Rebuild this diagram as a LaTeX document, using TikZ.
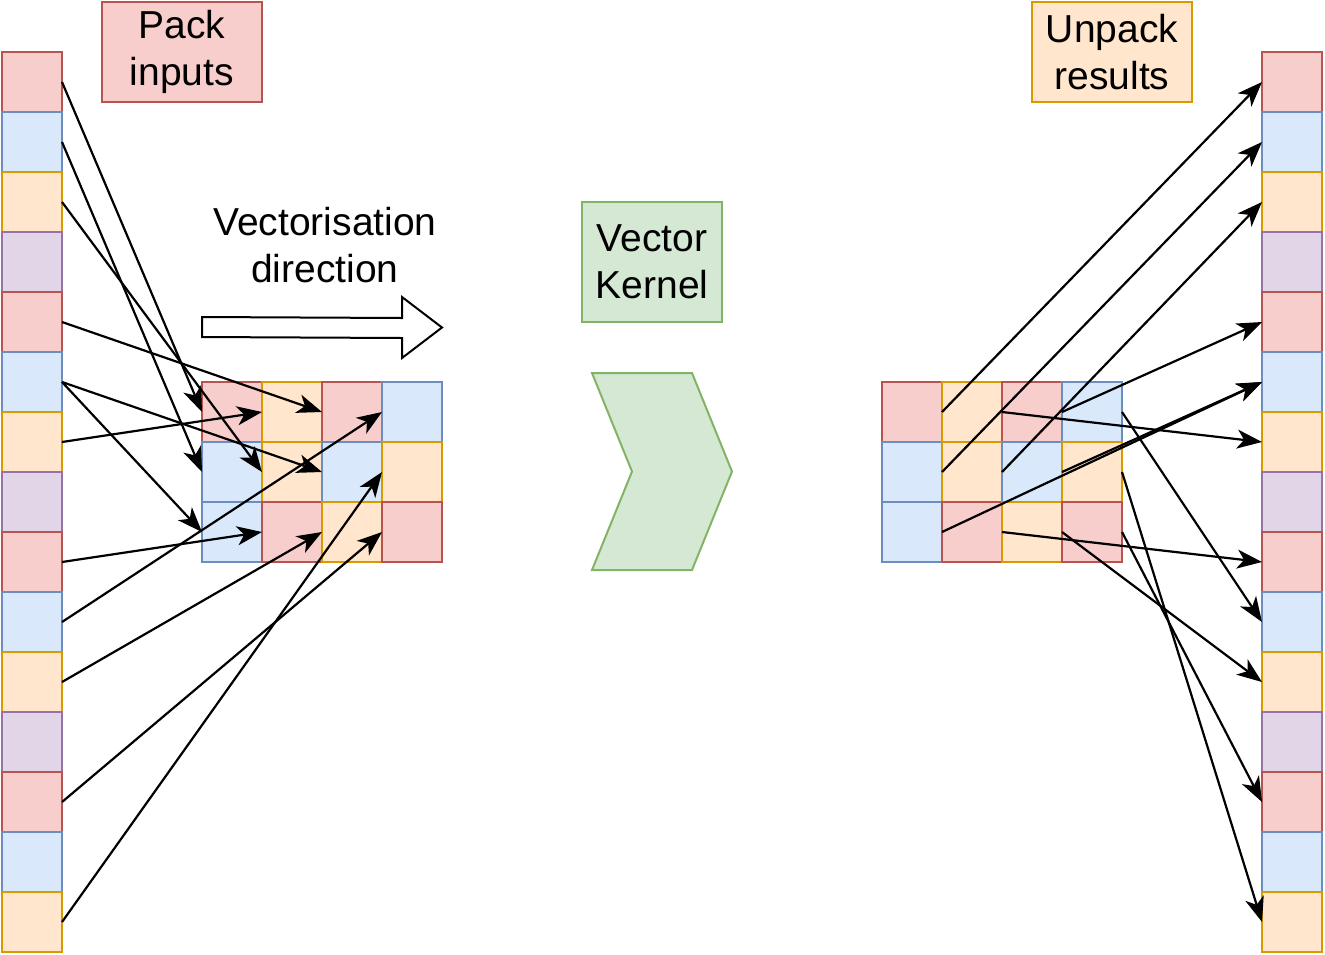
\documentclass[tikz,border=0pt]{standalone}
\usepackage{fontspec}
\setmainfont{Liberation Sans}
\usetikzlibrary{arrows.meta}
\definecolor{redF}{HTML}{F8CECC}\definecolor{redS}{HTML}{B85450}
\definecolor{bluF}{HTML}{DAE8FC}\definecolor{bluS}{HTML}{6C8EBF}
\definecolor{orgF}{HTML}{FFE6CC}\definecolor{orgS}{HTML}{D79B00}
\definecolor{purF}{HTML}{E1D5E7}\definecolor{purS}{HTML}{9673A6}
\definecolor{grnF}{HTML}{D5E8D4}\definecolor{grnS}{HTML}{82B366}
\begin{document}
\begin{tikzpicture}[x=1pt,y=-1pt,
  cell/.style={line width=2pt, minimum width=60pt, minimum height=60pt, inner sep=0pt, outer sep=0pt},
  rc/.style={cell, fill=redF, draw=redS},
  bc/.style={cell, fill=bluF, draw=bluS},
  oc/.style={cell, fill=orgF, draw=orgS},
  pc/.style={cell, fill=purF, draw=purS},
  tipA/.tip={Stealth[length=25pt,width=19pt,inset=7pt]},
  link/.style={line width=2.2pt, -tipA},
  lbl/.style={font=\fontsize{39}{47}\selectfont, align=center, inner sep=0pt, outer sep=0pt},
  lblbox/.style={lbl, line width=2pt}
]
\useasboundingbox (0,0) rectangle (1325,954);

% left column
\foreach \s [count=\i from 0] in {rc,bc,oc,pc,rc,bc,oc,pc,rc,bc,oc,pc,rc,bc,oc}
  \node[\s] (L\i) at (32,82+60*\i) {};
% right column
\foreach \s [count=\i from 0] in {rc,bc,oc,pc,rc,bc,oc,pc,rc,bc,oc,pc,rc,bc,oc}
  \node[\s] (R\i) at (1292,82+60*\i) {};

% left grid
\foreach \s [count=\c from 0] in {rc,oc,rc,bc} \node[\s] (A1\c) at (232+60*\c,412) {};
\foreach \s [count=\c from 0] in {bc,oc,bc,oc} \node[\s] (A2\c) at (232+60*\c,472) {};
\foreach \s [count=\c from 0] in {bc,rc,oc,rc} \node[\s] (A3\c) at (232+60*\c,532) {};
% right grid
\foreach \s [count=\c from 0] in {rc,oc,rc,bc} \node[\s] (B1\c) at (912+60*\c,412) {};
\foreach \s [count=\c from 0] in {bc,oc,bc,oc} \node[\s] (B2\c) at (912+60*\c,472) {};
\foreach \s [count=\c from 0] in {bc,rc,oc,rc} \node[\s] (B3\c) at (912+60*\c,532) {};

% labels
\node[lblbox, fill=redF, draw=redS, minimum width=160pt, minimum height=100pt] (pack) at (182,52) {Pack\\inputs};
\node[lblbox, fill=orgF, draw=orgS, minimum width=160pt, minimum height=100pt] (unpack) at (1112,52) {Unpack\\results};
\node[lblbox, fill=grnF, draw=grnS, minimum width=140pt, minimum height=120pt] (kernel) at (652,262) {Vector\\Kernel};
\node[lbl] (vdir) at (325,245) {Vectorisation\\direction};

% direction block arrow
\draw[line width=2pt, fill=white, line join=miter]
  (202,317) -- (402,318) -- (402,297) -- (442,327.5) -- (402,358) -- (402,338) -- (202,337) -- cycle;

% chevron
\draw[fill=grnF, draw=grnS, line width=2pt, line join=miter]
  (592,373) -- (692,373) -- (732,471.5) -- (692,570) -- (592,570) -- (632,471.5) -- cycle;

% packing arrows
\draw[link] (L0.east) -- (A10.west);
\draw[link] (L1.east) -- (A20.west);
\draw[link] (L2.east) -- (A21.west);
\draw[link] (L4.east) -- (A12.west);
\draw[link] (L5.east) -- (A22.west);
\draw[link] (L5.east) -- (A30.west);
\draw[link] (L6.east) -- (A11.west);
\draw[link] (L8.east) -- (A31.west);
\draw[link] (L9.east) -- (A13.west);
\draw[link] (L10.east) -- (A32.west);
\draw[link] (L12.east) -- (A33.west);
\draw[link] (L14.east) -- (A23.west);

% unpacking arrows
\draw[link] (B10.east) -- (R0.west);
\draw[link] (B11.east) -- (R6.west);
\draw[link] (B12.east) -- (R4.west);
\draw[link] (B13.east) -- (R9.west);
\draw[link] (B20.east) -- (R1.west);
\draw[link] (B21.east) -- (R2.west);
\draw[link] (B22.east) -- (R5.west);
\draw[link] (B23.east) -- (R14.west);
\draw[link] (B30.east) -- (R5.west);
\draw[link] (B31.east) -- (R8.west);
\draw[link] (B32.east) -- (R10.west);
\draw[link] (B33.east) -- (R12.west);
\end{tikzpicture}
\end{document}
